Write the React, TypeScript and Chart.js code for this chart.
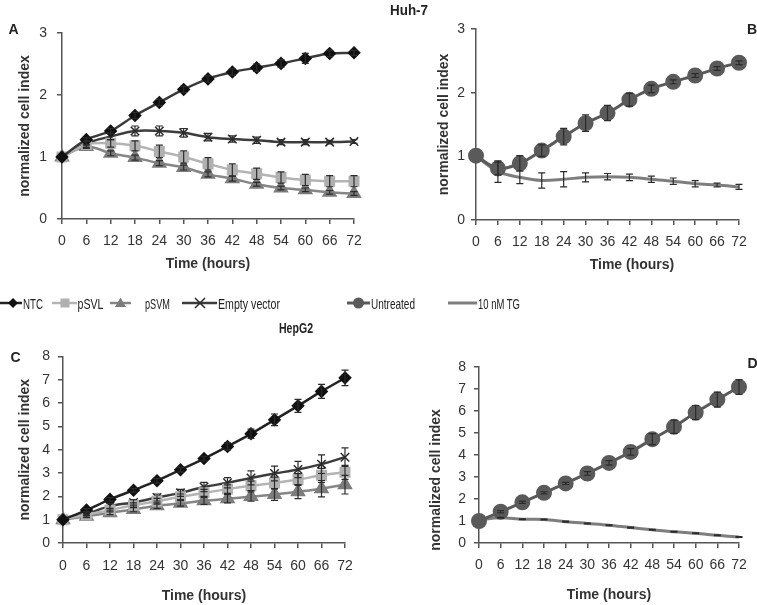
import React, { useEffect, useRef } from 'react';
import { Chart, registerables } from 'chart.js';
Chart.register(...registerables);

Chart.defaults.font.family = '"Liberation Sans", Arial, sans-serif';
Chart.defaults.color = '#333';

const hours = ['0', '6', '12', '18', '24', '30', '36', '42', '48', '54', '60', '66', '72'];

// Panel A – Huh-7
const aNTC = [1.0, 1.28, 1.42, 1.67, 1.88, 2.09, 2.26, 2.37, 2.44, 2.51, 2.59, 2.67, 2.68];
const aNTCErr = [0, 0.03, 0.04, 0.05, 0.05, 0.05, 0.05, 0.05, 0.06, 0.06, 0.08, 0.05, 0.04];
const aPSVL = [1.0, 1.2, 1.22, 1.18, 1.09, 1.0, 0.89, 0.79, 0.73, 0.67, 0.63, 0.61, 0.61];
const aPSVLErr = [0, 0.05, 0.06, 0.08, 0.1, 0.1, 0.1, 0.1, 0.09, 0.09, 0.09, 0.09, 0.09];
const aPSVM = [1.0, 1.17, 1.06, 0.99, 0.9, 0.83, 0.72, 0.65, 0.56, 0.5, 0.47, 0.43, 0.41];
const aPSVMErr = [0, 0.03, 0.04, 0.04, 0.04, 0.04, 0.04, 0.04, 0.03, 0.03, 0.03, 0.03, 0.03];
const aEmpty = [1.0, 1.22, 1.33, 1.42, 1.42, 1.39, 1.32, 1.29, 1.27, 1.24, 1.24, 1.24, 1.25];
const aEmptyErr = [0, 0.04, 0.05, 0.08, 0.08, 0.07, 0.06, 0.05, 0.05, 0.04, 0.04, 0.03, 0.03];

// Panel B – Huh-7
const bUntreated = [1.01, 0.81, 0.89, 1.09, 1.31, 1.52, 1.68, 1.89, 2.06, 2.17, 2.27, 2.38, 2.47];
const bUntreatedErr = [0, 0.1, 0.12, 0.09, 0.13, 0.13, 0.12, 0.1, 0.06, 0.03, 0.03, 0.03, 0.03];
const bTG = [1.0, 0.76, 0.67, 0.62, 0.64, 0.67, 0.68, 0.67, 0.64, 0.61, 0.57, 0.55, 0.52];
const bTGErr = [0, 0.17, 0.1, 0.12, 0.12, 0.07, 0.05, 0.05, 0.05, 0.05, 0.05, 0.03, 0.04];

// Panel C – HepG2
const cNTC = [1.0, 1.41, 1.87, 2.26, 2.67, 3.14, 3.62, 4.14, 4.68, 5.28, 5.88, 6.5, 7.08];
const cNTCErr = [0, 0.06, 0.08, 0.08, 0.1, 0.1, 0.1, 0.15, 0.2, 0.25, 0.28, 0.3, 0.33];
const cPSVL = [1.0, 1.22, 1.41, 1.62, 1.79, 1.98, 2.15, 2.31, 2.45, 2.57, 2.72, 2.9, 3.03];
const cPSVLErr = [0, 0.06, 0.08, 0.1, 0.12, 0.12, 0.15, 0.18, 0.2, 0.25, 0.25, 0.3, 0.3];
const cPSVM = [1.0, 1.15, 1.3, 1.44, 1.6, 1.7, 1.81, 1.9, 1.99, 2.08, 2.2, 2.33, 2.5];
const cPSVMErr = [0, 0.06, 0.08, 0.1, 0.12, 0.12, 0.15, 0.18, 0.2, 0.25, 0.3, 0.35, 0.4];
const cEmpty = [1.0, 1.25, 1.58, 1.74, 1.95, 2.15, 2.4, 2.58, 2.79, 2.98, 3.15, 3.38, 3.68];
const cEmptyErr = [0, 0.08, 0.12, 0.12, 0.15, 0.15, 0.2, 0.22, 0.3, 0.32, 0.35, 0.4, 0.4];

// Panel D – HepG2
const dUntreated = [1.0, 1.42, 1.85, 2.28, 2.71, 3.16, 3.64, 4.14, 4.72, 5.28, 5.93, 6.52, 7.09];
const dUntreatedErr = [0, 0.05, 0.05, 0.05, 0.05, 0.08, 0.1, 0.15, 0.25, 0.3, 0.32, 0.34, 0.34];
const dTG = [1.05, 1.15, 1.08, 1.07, 0.97, 0.89, 0.81, 0.7, 0.6, 0.51, 0.44, 0.35, 0.27];
const dTGErr = [0, 0.02, 0.02, 0.02, 0.02, 0.02, 0.02, 0.02, 0.02, 0.02, 0.02, 0.02, 0.02];

const errorBarPlugin = {
  id: 'errorBars',
  afterDatasetsDraw(chart: any) {
    const ctx = chart.ctx;
    const ys = chart.scales.y;
    chart.data.datasets.forEach((ds: any, i: number) => {
      const errs = ds.errors;
      if (!errs) return;
      const meta = chart.getDatasetMeta(i);
      ctx.save();
      ctx.strokeStyle = '#2b2b2b';
      ctx.lineWidth = 1.2;
      meta.data.forEach((pt: any, j: number) => {
        const e = errs[j];
        if (!e) return;
        const v = ds.data[j];
        const x = pt.x;
        const yT = ys.getPixelForValue(v + e);
        const yB = ys.getPixelForValue(v - e);
        ctx.beginPath();
        ctx.moveTo(x, yT); ctx.lineTo(x, yB);
        ctx.moveTo(x - 3.5, yT); ctx.lineTo(x + 3.5, yT);
        ctx.moveTo(x - 3.5, yB); ctx.lineTo(x + 3.5, yB);
        ctx.stroke();
      });
      ctx.restore();
    });
  },
};

const base = { tension: 0.35, clip: false, borderWidth: 2.5 };
const sNTC = { ...base, borderColor: '#3a3a3a', pointStyle: 'rectRot', pointRadius: 5, pointBackgroundColor: '#111', pointBorderColor: '#111' };
const sPSVL = { ...base, borderColor: '#b4b4b4', pointStyle: 'rect', pointRadius: 6, pointBackgroundColor: '#b0b0b0', pointBorderColor: '#b0b0b0' };
const sPSVM = { ...base, borderColor: '#868686', pointStyle: 'triangle', pointRadius: 6.5, pointBackgroundColor: '#7c7c7c', pointBorderColor: '#7c7c7c' };
const sEmpty = { ...base, borderColor: '#3c3c3c', pointStyle: 'crossRot', pointRadius: 6, pointBorderColor: '#2a2a2a', pointBorderWidth: 1.5 };
const sUntreated = { ...base, borderWidth: 3, borderColor: '#5a5a5a', pointStyle: 'circle', pointRadius: 6.5, pointBackgroundColor: '#5a5a5a', pointBorderColor: '#5a5a5a' };
const sTG = { ...base, borderWidth: 3, borderColor: '#7e7e7e', pointRadius: 0 };
const sTGd = { ...base, borderWidth: 3, borderColor: '#7e7e7e', pointStyle: 'dash', pointRadius: 1.5, pointBorderColor: '#333', pointBorderWidth: 1.2 };

type Spec = {
  left: number; top: number; width: number; height: number;
  pad: { top: number; right: number; bottom: number; left: number };
  yWidth: number; xHeight: number; yMax: number;
  yTitlePad: number | null; xTitlePad: number | null; xTickPad: number; yTickPad: number;
  datasets: any[];
};

function Panel({ spec }: { spec: Spec }) {
  const ref = useRef<HTMLCanvasElement | null>(null);
  useEffect(() => {
    if (!ref.current) return;
    const axisColor = '#555';
    const chart = new Chart(ref.current, {
      type: 'line',
      data: { labels: hours, datasets: spec.datasets },
      options: {
        animation: false,
        responsive: false,
        devicePixelRatio: 1,
        layout: { padding: spec.pad },
        plugins: { legend: { display: false }, tooltip: { enabled: false } },
        scales: {
          x: {
            type: 'category',
            offset: false,
            grid: { display: true, drawOnChartArea: false, drawTicks: true, tickLength: 5, color: axisColor, lineWidth: 1.5 },
            border: { display: true, color: axisColor, width: 1.5 },
            ticks: { font: { size: 14 }, color: '#333', padding: spec.xTickPad, maxRotation: 0, autoSkip: false },
            title: spec.xTitlePad === null ? { display: false } : {
              display: true, text: 'Time (hours)', color: '#333',
              font: { size: 14, weight: 'bold' }, padding: { top: 0, bottom: spec.xTitlePad },
            },
            afterFit: (s: any) => { s.height = spec.xHeight; },
          },
          y: {
            min: 0, max: spec.yMax,
            grid: { display: true, drawOnChartArea: false, drawTicks: true, tickLength: 5, color: axisColor, lineWidth: 1.5 },
            border: { display: true, color: axisColor, width: 1.5 },
            ticks: { stepSize: 1, font: { size: 14 }, color: '#333', padding: spec.yTickPad },
            title: spec.yTitlePad === null ? { display: false } : {
              display: true, text: 'normalized cell index', color: '#333',
              font: { size: 14, weight: 'bold' }, padding: { top: spec.yTitlePad, bottom: 0 },
            },
            afterFit: (s: any) => { s.width = spec.yWidth; },
          },
        },
      } as any,
      plugins: [errorBarPlugin],
    });
    return () => chart.destroy();
  }, [spec]);
  return (
    <canvas
      ref={ref}
      width={spec.width}
      height={spec.height}
      style={{ position: 'absolute', left: spec.left, top: spec.top, width: spec.width, height: spec.height }}
    />
  );
}

const specA: Spec = {
  left: 0, top: 0, width: 380, height: 280,
  pad: { top: 33, right: 26, bottom: 0, left: 0 },
  yWidth: 62, xHeight: 61, yMax: 3, yTitlePad: 17, xTitlePad: 7.6, xTickPad: 9, yTickPad: 10,
  datasets: [
    { label: 'NTC', data: aNTC, errors: aNTCErr, ...sNTC },
    { label: 'pSVL', data: aPSVL, errors: aPSVLErr, ...sPSVL },
    { label: 'pSVM', data: aPSVM, errors: aPSVMErr, ...sPSVM },
    { label: 'Empty vector', data: aEmpty, errors: aEmptyErr, ...sEmpty },
  ],
};

const specB: Spec = {
  left: 380, top: 0, width: 377, height: 280,
  pad: { top: 29, right: 18, bottom: 0, left: 0 },
  yWidth: 96, xHeight: 60, yMax: 3, yTitlePad: 55.6, xTitlePad: null, xTickPad: 9, yTickPad: 6,
  datasets: [
    { label: 'Untreated', data: bUntreated, errors: bUntreatedErr, ...sUntreated },
    { label: '10 nM TG', data: bTG, errors: bTGErr, ...sTG },
  ],
};

const specC: Spec = {
  left: 0, top: 340, width: 380, height: 265,
  pad: { top: 16, right: 35, bottom: 0, left: 0 },
  yWidth: 63, xHeight: 62, yMax: 8, yTitlePad: 16.6, xTitlePad: 0, xTickPad: 10, yTickPad: 8,
  datasets: [
    { label: 'NTC', data: cNTC, errors: cNTCErr, ...sNTC, borderColor: '#222' },
    { label: 'pSVL', data: cPSVL, errors: cPSVLErr, ...sPSVL },
    { label: 'pSVM', data: cPSVM, errors: cPSVMErr, ...sPSVM },
    { label: 'Empty vector', data: cEmpty, errors: cEmptyErr, ...sEmpty },
  ],
};

const specD: Spec = {
  left: 380, top: 340, width: 377, height: 265,
  pad: { top: 27, right: 18, bottom: 0, left: 0 },
  yWidth: 99, xHeight: 62, yMax: 8, yTitlePad: null, xTitlePad: 1.6, xTickPad: 9, yTickPad: 8,
  datasets: [
    { label: 'Untreated', data: dUntreated, errors: dUntreatedErr, ...sUntreated },
    { label: '10 nM TG', data: dTG, errors: dTGErr, ...sTGd },
  ],
};

const FONT = '"Liberation Sans", Arial, sans-serif';

function Overlay() {
  const t = { fontFamily: FONT, fill: '#222' } as any;
  const ly = 303;
  return (
    <svg width={757} height={605} style={{ position: 'absolute', left: 0, top: 0, pointerEvents: 'none' }}>
      <text x={8.5} y={34} fontSize={14} fontWeight="bold" {...t}>A</text>
      <text x={747} y={34} fontSize={14} fontWeight="bold" {...t}>B</text>
      <text x={10.5} y={362} fontSize={14} fontWeight="bold" {...t}>C</text>
      <text x={747.5} y={368} fontSize={14} fontWeight="bold" {...t}>D</text>
      <text x={390} y={15} fontSize={14} fontWeight="bold" textLength={38} lengthAdjust="spacingAndGlyphs" {...t}>Huh-7</text>
      <text x={279} y={333} fontSize={14} fontWeight="bold" textLength={34} lengthAdjust="spacingAndGlyphs" {...t}>HepG2</text>
      <text x={632} y={269} fontSize={14} fontWeight="bold" textAnchor="middle" {...t} fill="#333">Time (hours)</text>
      <text transform="translate(440,480) rotate(-90)" x={0} y={0} fontSize={14} fontWeight="bold" textAnchor="middle" {...t} fill="#333">normalized cell index</text>

      <line x1={0} y1={ly} x2={22} y2={ly} stroke="#222" strokeWidth={2.5} />
      <polygon points={`13,${ly - 5} 18,${ly} 13,${ly + 5} 8,${ly}`} fill="#111" />
      <text x={23} y={ly + 5.5} fontSize={14.5} textLength={20} lengthAdjust="spacingAndGlyphs" {...t}>NTC</text>

      <line x1={52} y1={ly} x2={77} y2={ly} stroke="#b4b4b4" strokeWidth={2.5} />
      <rect x={60.5} y={ly - 4.5} width={9} height={9} fill="#b0b0b0" />
      <text x={77.5} y={ly + 5.5} fontSize={14.5} textLength={26} lengthAdjust="spacingAndGlyphs" {...t}>pSVL</text>

      <line x1={110} y1={ly} x2={131} y2={ly} stroke="#868686" strokeWidth={2.5} />
      <polygon points={`120.5,${ly - 5.5} 126,${ly + 4} 115,${ly + 4}`} fill="#7c7c7c" />
      <text x={145} y={ly + 5.5} fontSize={14.5} textLength={25} lengthAdjust="spacingAndGlyphs" {...t}>pSVM</text>

      <line x1={182} y1={ly} x2={217} y2={ly} stroke="#3c3c3c" strokeWidth={2.5} />
      <path d={`M195,${ly - 5} L205,${ly + 5} M195,${ly + 5} L205,${ly - 5}`} stroke="#2a2a2a" strokeWidth={1.5} />
      <text x={218} y={ly + 5.5} fontSize={14.5} textLength={62} lengthAdjust="spacingAndGlyphs" {...t}>Empty vector</text>

      <line x1={347} y1={ly} x2={370} y2={ly} stroke="#5a5a5a" strokeWidth={3} />
      <circle cx={358.5} cy={ly} r={5.5} fill="#5a5a5a" />
      <text x={371} y={ly + 5.5} fontSize={14.5} textLength={44} lengthAdjust="spacingAndGlyphs" {...t}>Untreated</text>

      <line x1={448} y1={ly} x2={477} y2={ly} stroke="#7e7e7e" strokeWidth={3} />
      <text x={478} y={ly + 5.5} fontSize={14.5} textLength={42} lengthAdjust="spacingAndGlyphs" {...t}>10 nM TG</text>
    </svg>
  );
}

export default function App() {
  return (
    <div style={{ position: 'absolute', left: 0, top: 0, width: 757, height: 605, background: '#fff', overflow: 'hidden' }}>
      <Panel spec={specA} />
      <Panel spec={specB} />
      <Panel spec={specC} />
      <Panel spec={specD} />
      <Overlay />
    </div>
  );
}
